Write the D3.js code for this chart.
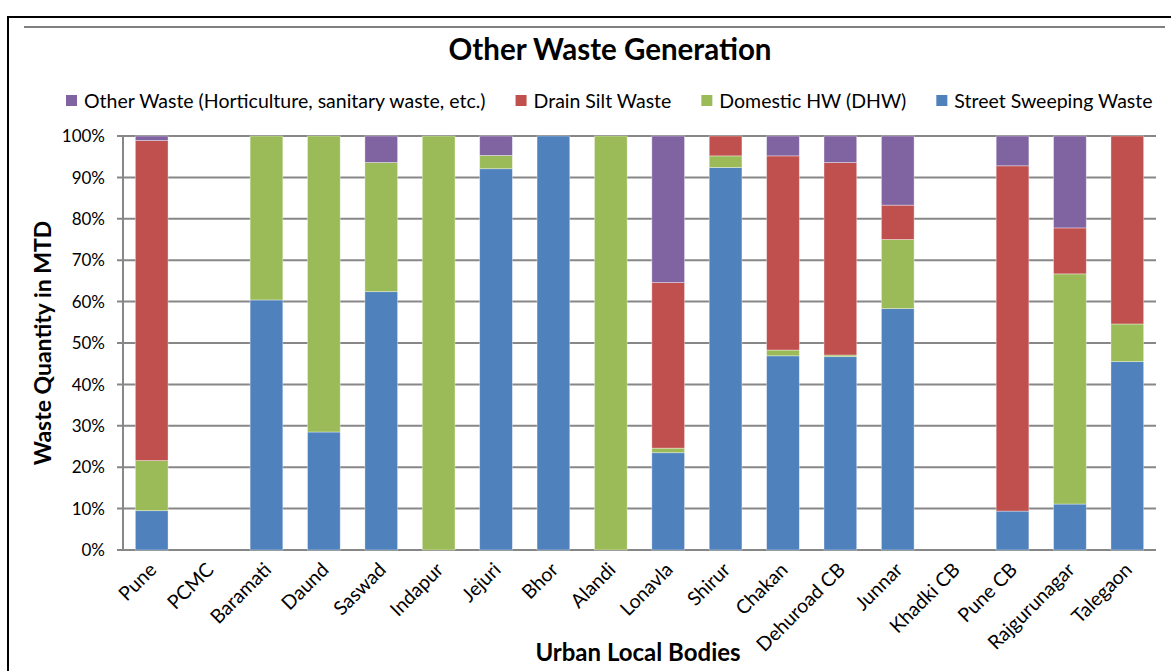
<!DOCTYPE html>
<html>
<head>
<meta charset="utf-8">
<script src="https://cdn.jsdelivr.net/npm/d3@7"></script>
<style>
  body { margin: 0; background: #fff; }
  svg { display: block; font-family: Lato, "Open Sans", sans-serif; }
</style>
</head>
<body>
<div id="chart"></div>
<script>
// values are percent shares
const categories = ["Pune", "PCMC", "Baramati", "Daund", "Saswad", "Indapur", "Jejuri", "Bhor", "Alandi",
  "Lonavla", "Shirur", "Chakan", "Dehuroad CB", "Junnar", "Khadki CB", "Pune CB", "Rajgurunagar", "Talegaon"];
const streetSweeping = [9.5, 0, 60.4, 28.5, 62.4, 0, 92.1, 100, 0, 23.5, 92.4, 46.9, 46.7, 58.3, 0, 9.4, 11.1, 45.5];
const domesticHW = [12.1, 0, 39.6, 71.5, 31.2, 100, 3.2, 0, 100, 1.1, 2.8, 1.4, 0.4, 16.7, 0, 0, 55.6, 9.1];
const drainSilt = [77.3, 0, 0, 0, 0, 0, 0, 0, 0, 40.0, 4.8, 46.9, 46.5, 8.3, 0, 83.4, 11.1, 45.4];
const otherWaste = [1.1, 0, 0, 0, 6.4, 0, 4.7, 0, 0, 35.4, 0, 4.8, 6.4, 16.7, 0, 7.2, 22.2, 0];
const seriesNames = ["Street Sweeping Waste", "Domestic HW (DHW)", "Drain Silt Waste",
  "Other Waste (Horticulture, sanitary waste, etc.)"];
const seriesColors = ["#4f81bd", "#9bbb59", "#c0504d", "#8064a2"];
const yTicks = [0, 10, 20, 30, 40, 50, 60, 70, 80, 90, 100];

const width = 1171, height = 671;
const margin = { left: 123, right: 1156, top: 136, bottom: 550 };

const svg = d3.select("#chart").append("svg")
  .attr("width", width)
  .attr("height", height);

// frame
svg.append("path")
  .attr("d", `M8,${height}V17H${width}`)
  .attr("fill", "none")
  .attr("stroke", "#000")
  .attr("stroke-width", 2);
svg.append("line")
  .attr("x1", 24).attr("x2", 1165)
  .attr("y1", 27).attr("y2", 27)
  .attr("stroke", "#808080")
  .attr("stroke-width", 2);

const rows = categories.map((c, i) => ({
  name: c,
  s0: streetSweeping[i], s1: domesticHW[i], s2: drainSilt[i], s3: otherWaste[i]
}));
const stack = d3.stack().keys(["s0", "s1", "s2", "s3"]);
const layers = stack(rows);

const x = d3.scaleBand()
  .domain(categories)
  .range([margin.left, margin.right])
  .paddingInner(0.43)
  .paddingOuter(0.215);
const y = d3.scaleLinear().domain([0, 100]).range([margin.bottom, margin.top]);

// gridlines
svg.append("g")
  .selectAll("line")
  .data(yTicks)
  .join("line")
  .attr("x1", margin.left - 6)
  .attr("x2", margin.right)
  .attr("y1", d => y(d))
  .attr("y2", d => y(d))
  .attr("stroke", "#878787")
  .attr("stroke-width", 2);
svg.append("line")
  .attr("x1", margin.left).attr("x2", margin.left)
  .attr("y1", margin.top).attr("y2", margin.bottom)
  .attr("stroke", "#878787")
  .attr("stroke-width", 2);

// bars
svg.append("g")
  .selectAll("g")
  .data(layers)
  .join("g")
  .attr("fill", (d, i) => seriesColors[i])
  .selectAll("rect")
  .data(d => d)
  .join("rect")
  .attr("x", d => x(d.data.name))
  .attr("width", x.bandwidth())
  .attr("y", d => y(d[1]))
  .attr("height", d => y(d[0]) - y(d[1]))
  .attr("stroke", "#fff")
  .attr("stroke-opacity", 0.45)
  .attr("stroke-width", 0.8);

// y tick labels
svg.append("g")
  .selectAll("text")
  .data(yTicks)
  .join("text")
  .attr("x", 105)
  .attr("y", d => y(d))
  .attr("dy", "0.36em")
  .attr("text-anchor", "end")
  .attr("font-size", 17)
  .attr("fill", "#000")
  .text(d => d + "%");

// x tick labels
svg.append("g")
  .selectAll("text")
  .data(categories)
  .join("text")
  .attr("transform", d => `translate(${x(d) + x.bandwidth() / 2 + 6},${571}) rotate(-45)`)
  .attr("text-anchor", "end")
  .attr("font-size", 19.5)
  .attr("fill", "#000")
  .text(d => d);

// titles
svg.append("text")
  .attr("x", 610).attr("y", 60)
  .attr("text-anchor", "middle")
  .attr("font-size", 29.5)
  .attr("font-weight", "bold")
  .text("Other Waste Generation");
svg.append("text")
  .attr("x", 638).attr("y", 661)
  .attr("text-anchor", "middle")
  .attr("font-size", 24)
  .attr("font-weight", "bold")
  .text("Urban Local Bodies");
svg.append("text")
  .attr("transform", `translate(51,${(margin.top + margin.bottom) / 2}) rotate(-90)`)
  .attr("text-anchor", "middle")
  .attr("font-size", 23)
  .attr("font-weight", "bold")
  .text("Waste Quantity in MTD");

// legend, reversed order like Excel
const legend = svg.append("g").attr("transform", "translate(66,101)");
let lx = 0;
[3, 2, 1, 0].forEach(i => {
  const g = legend.append("g").attr("transform", `translate(${lx},0)`);
  g.append("rect")
    .attr("x", 0).attr("y", -6)
    .attr("width", 11).attr("height", 11)
    .attr("fill", seriesColors[i]);
  const t = g.append("text")
    .attr("x", 18).attr("y", 0)
    .attr("dy", "0.36em")
    .attr("font-size", 19.5)
    .text(seriesNames[i]);
  lx += 18 + t.node().getComputedTextLength() + 30;
});
</script>
</body>
</html>
